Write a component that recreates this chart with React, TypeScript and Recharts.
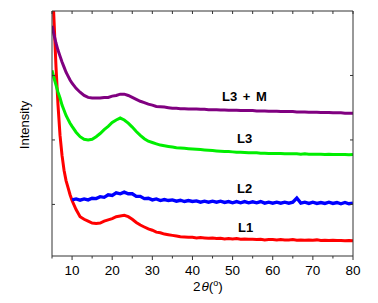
import { LineChart, Line, XAxis, YAxis } from "recharts"

// 2-theta positions (degrees)
const angles = [
  5, 5.5, 6, 6.5, 7, 7.5, 8, 8.5, 9, 9.5,
  10, 11, 12, 13, 14, 15, 16, 17, 18, 19, 20, 21, 22, 23, 24, 25, 26, 27, 28, 29,
  30, 31, 32, 33, 34, 35, 36, 37, 38, 39, 40, 41, 42, 43, 44, 45, 46, 47, 48, 49,
  50, 51, 52, 53, 54, 55, 56, 57, 58, 59, 60, 61, 62, 63, 64, 65, 66, 67, 68, 69,
  70, 71, 72, 73, 74, 75, 76, 77, 78, 79, 80,
]

// intensities (a.u., stacked offsets as plotted)
const l1 = [
  4.37, 3.66, 2.93, 2.34, 1.87, 1.56, 1.33, 1.17, 1.06, 0.95,
  0.86, 0.72, 0.61, 0.57, 0.54, 0.51, 0.505, 0.51, 0.54, 0.56, 0.58, 0.61, 0.62, 0.63, 0.61, 0.57, 0.52, 0.48, 0.45, 0.42,
  0.4, 0.37, 0.36, 0.34, 0.33, 0.32, 0.31, 0.3, 0.295, 0.29, 0.29, 0.28, 0.285, 0.28, 0.275, 0.28, 0.27, 0.275, 0.265, 0.27,
  0.265, 0.27, 0.26, 0.265, 0.26, 0.26, 0.255, 0.26, 0.25, 0.255, 0.255, 0.25, 0.255, 0.25, 0.25, 0.255, 0.245, 0.25, 0.245, 0.25,
  0.245, 0.25, 0.24, 0.245, 0.24, 0.245, 0.24, 0.24, 0.235, 0.24, 0.235,
]

const l2 = [
  null, null, null, null, null, null, null, null, null, null,
  0.87, 0.885, 0.865, 0.885, 0.87, 0.895, 0.89, 0.92, 0.91, 0.95, 0.94, 0.98, 0.965, 0.99, 0.965, 0.965, 0.925, 0.925, 0.89, 0.895,
  0.87, 0.885, 0.86, 0.875, 0.86, 0.87, 0.85, 0.865, 0.845, 0.86, 0.845, 0.855, 0.835, 0.85, 0.835, 0.85, 0.835, 0.85, 0.83, 0.845,
  0.825, 0.845, 0.825, 0.845, 0.825, 0.84, 0.825, 0.845, 0.82, 0.835, 0.82, 0.835, 0.82, 0.835, 0.82, 0.835, 0.9, 0.82, 0.835, 0.815,
  0.835, 0.815, 0.83, 0.815, 0.835, 0.815, 0.83, 0.81, 0.83, 0.81, 0.82,
]

const l3 = [
  2.88, 2.76, 2.65, 2.54, 2.45, 2.34, 2.26, 2.18, 2.12, 2.06,
  2.01, 1.92, 1.85, 1.81, 1.8, 1.81, 1.85, 1.9, 1.96, 2.01, 2.07, 2.11, 2.14, 2.11, 2.06, 2.0, 1.93, 1.87, 1.82, 1.78,
  1.76, 1.74, 1.72, 1.71, 1.7, 1.69, 1.68, 1.675, 1.67, 1.665, 1.66, 1.655, 1.65, 1.645, 1.64, 1.635, 1.63, 1.625, 1.62, 1.62,
  1.615, 1.61, 1.61, 1.605, 1.6, 1.6, 1.6, 1.595, 1.595, 1.59, 1.59, 1.59, 1.59, 1.585, 1.585, 1.585, 1.585, 1.58, 1.585, 1.58,
  1.58, 1.58, 1.58, 1.575, 1.58, 1.575, 1.575, 1.575, 1.575, 1.57, 1.575,
]

const l3m = [
  3.57, 3.43, 3.3, 3.19, 3.1, 3.01, 2.93, 2.85, 2.79, 2.73,
  2.68, 2.6, 2.54, 2.49, 2.46, 2.45, 2.45, 2.45, 2.46, 2.46, 2.48, 2.49, 2.51, 2.51, 2.49, 2.46, 2.43, 2.4, 2.38, 2.355,
  2.34, 2.32, 2.315, 2.31, 2.3, 2.29, 2.29, 2.285, 2.285, 2.28, 2.28, 2.28, 2.275, 2.275, 2.27, 2.27, 2.27, 2.265, 2.265, 2.26,
  2.26, 2.26, 2.255, 2.255, 2.255, 2.255, 2.25, 2.25, 2.25, 2.245, 2.245, 2.245, 2.24, 2.24, 2.24, 2.24, 2.235, 2.235, 2.235, 2.23,
  2.23, 2.23, 2.225, 2.225, 2.225, 2.22, 2.22, 2.22, 2.215, 2.215, 2.215,
]

const xTicks = [5, 10, 15, 20, 25, 30, 35, 40, 45, 50, 55, 60, 65, 70, 75, 80]
const yTicks = [0.8, 1.8, 2.8]

const seriesLabels = [
  { text: "L3 + M", x: 222, y: 101 },
  { text: "L3", x: 237, y: 143 },
  { text: "L2", x: 237, y: 193 },
  { text: "L1", x: 238, y: 232 },
]

const data = angles.map((a, i) => ({
  angle: a,
  L1: l1[i],
  L2: l2[i],
  L3: l3[i],
  L3M: l3m[i],
}))

const AXIS = "#333"
const FONT = "Arial, 'Liberation Sans', sans-serif"

const BottomTick = (props: any) => {
  const { x, y, payload } = props
  const major = payload.value % 10 === 0
  return (
    <g>
      <line x1={x} x2={x} y1={y} y2={y + (major ? 4 : 2.5)} stroke={AXIS} />
      {major && payload.value !== 5 && (
        <text x={x} y={y + 18.5} textAnchor="middle" fontSize={13.5} fill="#000" fontFamily={FONT}>
          {payload.value}
        </text>
      )}
    </g>
  )
}

const TopTick = (props: any) => {
  const { x, y } = props
  return <line x1={x} x2={x} y1={y} y2={y + 3} stroke={AXIS} />
}

const LeftTick = (props: any) => {
  const { x, y } = props
  return <line x1={x} x2={x + 3} y1={y} y2={y} stroke={AXIS} />
}

const RightTick = (props: any) => {
  const { x, y } = props
  return <line x1={x} x2={x - 3} y1={y} y2={y} stroke={AXIS} />
}

export default function App() {
  return (
    <div style={{ position: "absolute", left: 0, top: 0, width: 378, height: 303, background: "#fff" }}>
      <LineChart width={378} height={303} data={data} margin={{ top: 10, right: 24, bottom: 0, left: 0 }}>
        <XAxis
          xAxisId="b"
          dataKey="angle"
          type="number"
          domain={[5, 80]}
          ticks={xTicks}
          allowDataOverflow
          height={47}
          tickSize={0}
          tickMargin={0}
          tickLine={false}
          tick={<BottomTick />}
          axisLine={{ stroke: AXIS }}
          interval={0}
        />
        <XAxis
          xAxisId="t"
          orientation="top"
          dataKey="angle"
          type="number"
          domain={[5, 80]}
          ticks={xTicks}
          allowDataOverflow
          height={1}
          tickSize={0}
          tickMargin={0}
          tickLine={false}
          tick={<TopTick />}
          axisLine={{ stroke: AXIS }}
          interval={0}
        />
        <YAxis
          yAxisId="l"
          type="number"
          domain={[0, 3.8]}
          ticks={yTicks}
          allowDataOverflow
          width={52}
          tickSize={0}
          tickMargin={0}
          tickLine={false}
          tick={<LeftTick />}
          axisLine={{ stroke: AXIS }}
          interval={0}
        />
        <YAxis
          yAxisId="r"
          orientation="right"
          type="number"
          domain={[0, 3.8]}
          ticks={yTicks}
          allowDataOverflow
          width={1}
          tickSize={0}
          tickMargin={0}
          tickLine={false}
          tick={<RightTick />}
          axisLine={{ stroke: AXIS }}
          interval={0}
        />
        <Line xAxisId="b" yAxisId="l" type="linear" dataKey="L1" stroke="#ff0000" strokeWidth={3} dot={false} isAnimationActive={false} />
        <Line xAxisId="b" yAxisId="l" type="linear" dataKey="L2" stroke="#0000ff" strokeWidth={3.4} dot={false} isAnimationActive={false} />
        <Line xAxisId="b" yAxisId="l" type="linear" dataKey="L3" stroke="#00ee00" strokeWidth={3} dot={false} isAnimationActive={false} />
        <Line xAxisId="b" yAxisId="l" type="linear" dataKey="L3M" stroke="#800080" strokeWidth={3} dot={false} isAnimationActive={false} />
      </LineChart>

      {/* text overlay */}
      <svg width={378} height={303} style={{ position: "absolute", left: 0, top: 0, pointerEvents: "none" }} fontFamily={FONT}>
        <text transform="translate(28.5,125) rotate(-90)" textAnchor="middle" fontSize={13} fill="#000">
          Intensity
        </text>
        <text x={193} y={291} fontSize={13.5} fill="#000">
          2<tspan fontStyle="italic" dx={1}>θ</tspan>(<tspan fontSize={9} dy={-5}>o</tspan><tspan dy={5}>)</tspan>
        </text>
        {seriesLabels.map((s) => (
          <text key={s.text} x={s.x} y={s.y} fontSize={13} fontWeight="bold" fill="#000" wordSpacing={2}>
            {s.text}
          </text>
        ))}
      </svg>
    </div>
  )
}
